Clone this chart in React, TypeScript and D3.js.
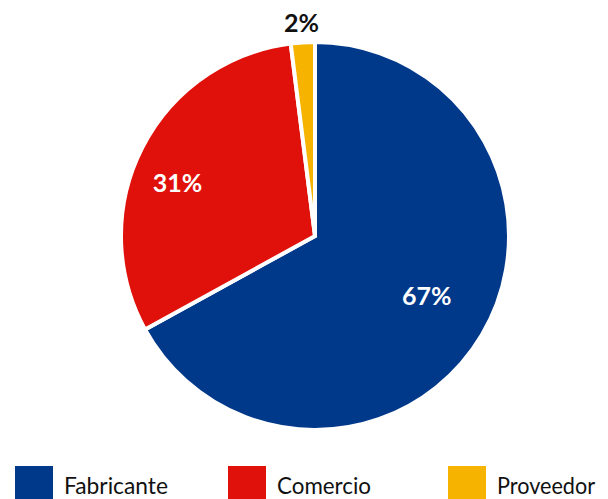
import React from "react";
import * as d3 from "d3";

const categories = ["Fabricante", "Comercio", "Proveedor"];
const values = [67, 31, 2];
const labels = ["67%", "31%", "2%"];
const colors = ["#00388a", "#e0110a", "#f6b300"];

export default function App() {
  const W = 608, H = 499;
  const cx = 315, cy = 236, r = 194;
  const pie = d3.pie<number>().sort(null).value((d) => d)(values);
  const arc = d3.arc<d3.PieArcDatum<number>>().innerRadius(0).outerRadius(r);
  const labelR = [0.655, 0.76, 1.1];
  const labelAngleShift = [-0.04, -0.1, 0];
  const legendX = [15, 228, 448];
  const legendTextW = [104, 94, 98];
  return (
    <svg width={W} height={H} style={{ position: "absolute", left: 0, top: 0 }}>
      <g transform={`translate(${cx},${cy})`}>
        {pie.map((p, i) => (
          <path key={i} d={arc(p) || ""} fill={colors[i]} stroke="#fff" strokeWidth={4} strokeLinejoin="miter" />
        ))}
        {pie.map((p, i) => {
          const a = (p.startAngle + p.endAngle) / 2 + labelAngleShift[i];
          const lr = r * labelR[i];
          const x = Math.sin(a) * lr;
          const y = -Math.cos(a) * lr;
          return (
            <text key={i} x={x} y={y} dy="0.36em" textAnchor="middle"
              fontFamily="Lato, 'DejaVu Sans', sans-serif" fontWeight="bold" fontSize={25}
              fill={i === 2 ? "#111" : "#fff"}>{labels[i]}</text>
          );
        })}
      </g>
      {categories.map((c, i) => (
        <g key={c}>
          <rect x={legendX[i]} y={466} width={38} height={33} fill={colors[i]} />
          <text x={legendX[i] + 49} y={494} fontFamily="Lato, 'DejaVu Sans', sans-serif" fontSize={24}
            textLength={legendTextW[i]} lengthAdjust="spacingAndGlyphs" fill="#111">{c}</text>
        </g>
      ))}
    </svg>
  );
}
